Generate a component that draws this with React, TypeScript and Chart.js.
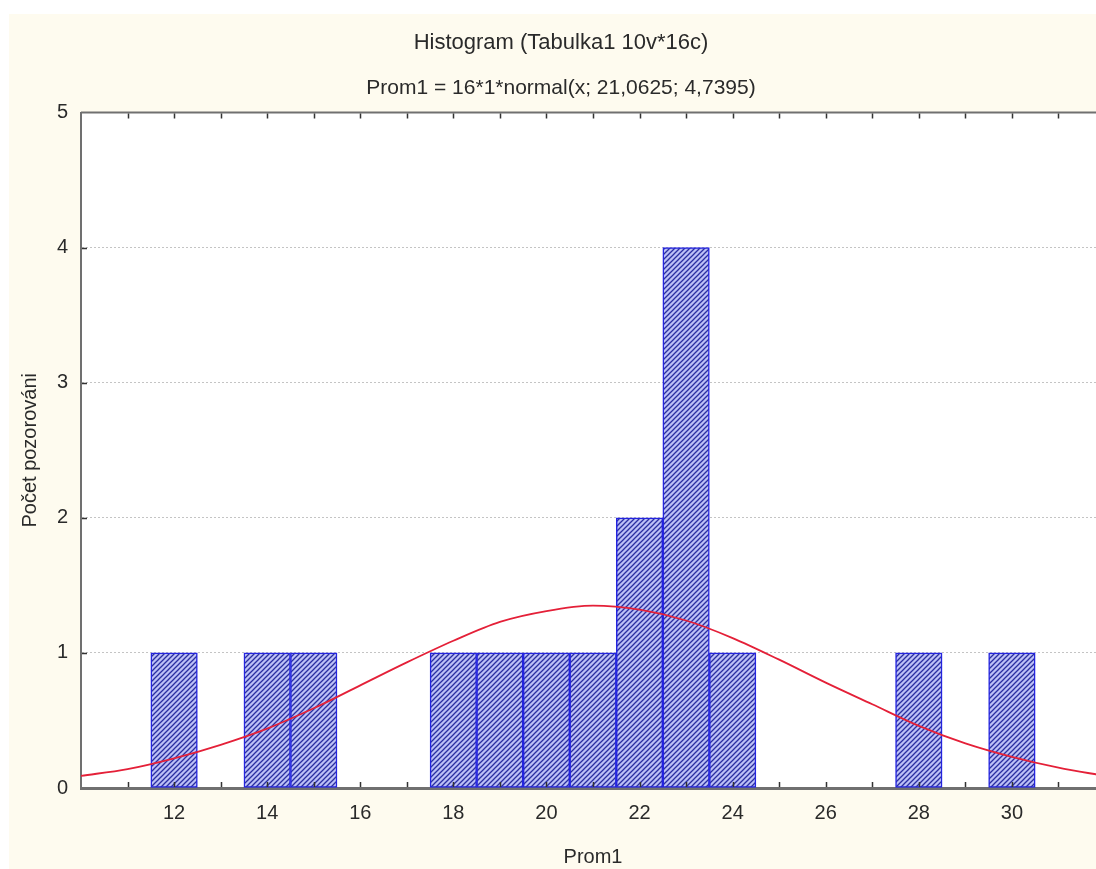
import React, { useEffect, useRef } from 'react';
import { Chart, registerables } from 'chart.js';

Chart.register(...registerables);

const titleText = 'Histogram (Tabulka1 10v*16c)';
const subtitleText = 'Prom1 = 16*1*normal(x; 21,0625; 4,7395)';
const xAxisTitle = 'Prom1';
const yAxisTitle = 'Počet pozorováni';

// histogram bins (centre of each 1-wide bin) and their counts
const binCenters = [12, 14, 15, 18, 19, 20, 21, 22, 23, 24, 28, 30];
const binCounts = [1, 1, 1, 1, 1, 1, 1, 2, 4, 1, 1, 1];

// fitted normal curve
const curveX = [10, 11, 12, 13, 14, 15, 16, 17, 18, 19, 20, 21, 22, 23, 24, 25, 26, 27, 28, 29, 30, 31, 32];
const curveY = [0.09, 0.14, 0.22, 0.32, 0.44, 0.59, 0.76, 0.93, 1.09, 1.23, 1.31, 1.35, 1.32, 1.24, 1.11, 0.95, 0.78, 0.62, 0.46, 0.33, 0.23, 0.15, 0.09];

// axis ticks
const xTickLabels = [12, 14, 16, 18, 20, 22, 24, 26, 28, 30];
const xMin = 10;
const xMax = 32;
const yMin = 0;
const yMax = 5;

const FONT = '"Liberation Sans", Arial, sans-serif';
const TEXT = '#2a2a2a';
const CREAM = '#fefbef';
const AXIS = '#707070';

function makeHatch(): CanvasPattern | string {
  const n = 5;
  const c = document.createElement('canvas');
  c.width = n;
  c.height = n;
  const g = c.getContext('2d');
  if (!g) return '#8080d8';
  g.fillStyle = '#bcc0f6';
  g.fillRect(0, 0, n, n);
  g.strokeStyle = '#2a2ea0';
  g.lineWidth = 1.3;
  g.beginPath();
  g.moveTo(-1, n + 1);
  g.lineTo(n + 1, -1);
  g.moveTo(-1, 1);
  g.lineTo(1, -1);
  g.moveTo(n - 1, n + 1);
  g.lineTo(n + 1, n - 1);
  g.stroke();
  const p = g.createPattern(c, 'repeat');
  return p || '#8080d8';
}

const framePlugin = {
  id: 'frame',
  beforeDraw(chart: any) {
    const { ctx, chartArea } = chart;
    ctx.save();
    ctx.fillStyle = CREAM;
    ctx.fillRect(0, 0, chart.width, chart.height);
    ctx.fillStyle = '#ffffff';
    ctx.fillRect(chartArea.left, chartArea.top, chartArea.right - chartArea.left, chartArea.bottom - chartArea.top);
    ctx.restore();
  },
  afterDatasetsDraw(chart: any) {
    const { ctx, chartArea, scales } = chart;
    const xs = scales.x;
    const ys = scales.y;
    ctx.save();
    // top border
    ctx.strokeStyle = AXIS;
    ctx.lineWidth = 2;
    ctx.beginPath();
    ctx.moveTo(chartArea.left, chartArea.top);
    ctx.lineTo(chartArea.right, chartArea.top);
    ctx.stroke();
    // inner tick marks
    ctx.strokeStyle = '#333333';
    ctx.lineWidth = 1.5;
    ctx.beginPath();
    for (let v = xMin + 1; v < xMax; v++) {
      const px = Math.round(xs.getPixelForValue(v)) + 0.5;
      ctx.moveTo(px, chartArea.bottom - 1);
      ctx.lineTo(px, chartArea.bottom - 6);
      ctx.moveTo(px, chartArea.top + 1);
      ctx.lineTo(px, chartArea.top + 6);
    }
    for (let v = yMin + 1; v < yMax; v++) {
      const py = Math.round(ys.getPixelForValue(v)) + 0.5;
      ctx.moveTo(chartArea.left + 1, py);
      ctx.lineTo(chartArea.left + 6, py);
    }
    ctx.stroke();
    ctx.restore();
  },
};

export default function App() {
  const ref = useRef<HTMLCanvasElement | null>(null);

  useEffect(() => {
    const canvas = ref.current;
    if (!canvas) return;
    const hatch = makeHatch();
    const chart = new Chart(canvas, {
      type: 'bar',
      data: {
        datasets: [
          {
            type: 'line',
            label: 'normal',
            data: curveX.map((x, i) => ({ x, y: curveY[i] })),
            borderColor: 'rgb(228, 32, 56)',
            borderWidth: 1.8,
            pointRadius: 0,
            cubicInterpolationMode: 'monotone',
            fill: false,
            order: 1,
          } as any,
          {
            type: 'bar',
            label: 'Prom1',
            data: binCenters.map((x, i) => ({ x, y: binCounts[i] })),
            backgroundColor: hatch as any,
            borderColor: '#2424e0',
            borderWidth: 1.5,
            borderSkipped: false,
            barPercentage: 1,
            categoryPercentage: 1,
            order: 2,
          } as any,
        ],
      },
      options: {
        responsive: false,
        animation: false,
        devicePixelRatio: 1,
        layout: { padding: { left: 0, right: 5, top: 0, bottom: 0 } },
        plugins: {
          legend: { display: false },
          tooltip: { enabled: false },
          title: {
            display: true,
            text: titleText,
            color: TEXT,
            font: { family: FONT, size: 22, weight: 'normal' },
            padding: { top: 16, bottom: 0 },
          },
          subtitle: {
            display: true,
            text: subtitleText,
            color: TEXT,
            font: { family: FONT, size: 21, weight: 'normal' },
            padding: { top: 19, bottom: 12 },
          },
        },
        scales: {
          x: {
            type: 'linear',
            offset: false,
            min: xMin,
            max: xMax,
            afterFit: (s: any) => {
              s.height = 81;
            },
            ticks: {
              stepSize: 1,
              autoSkip: false,
              maxRotation: 0,
              minRotation: 0,
              padding: 13,
              color: TEXT,
              font: { family: FONT, size: 20 },
              callback: (v: any) => (xTickLabels.includes(Number(v)) ? String(v) : ''),
            },
            grid: { display: true, offset: false, color: 'transparent', drawTicks: false },
            border: { display: true, color: AXIS, width: 3 },
            title: {
              display: true,
              text: xAxisTitle,
              color: TEXT,
              font: { family: FONT, size: 20 },
              padding: { top: 0, bottom: 0 },
            },
          },
          y: {
            type: 'linear',
            min: yMin,
            max: yMax,
            afterFit: (s: any) => {
              s.width = 72;
            },
            ticks: {
              stepSize: 1,
              padding: 13,
              color: TEXT,
              font: { family: FONT, size: 20 },
            },
            grid: {
              display: true,
              drawTicks: false,
              color: (c: any) => (c.tick && c.tick.value > yMin && c.tick.value < yMax ? '#c4c4c4' : 'transparent'),
              lineWidth: 1,
            },
            border: { display: true, color: AXIS, width: 2, dash: [2, 2] },
            title: {
              display: true,
              text: yAxisTitle,
              color: TEXT,
              font: { family: FONT, size: 20 },
              padding: { top: 9, bottom: 0 },
            },
          },
        },
      },
      plugins: [framePlugin],
    });
    return () => chart.destroy();
  }, []);

  return (
    <div
      style={{
        position: 'absolute',
        left: 9,
        top: 14,
        width: 1087,
        height: 855,
        overflow: 'hidden',
        background: CREAM,
      }}
    >
      <canvas ref={ref} width={1109} height={855} style={{ display: 'block', width: 1109, height: 855 }} />
    </div>
  );
}
